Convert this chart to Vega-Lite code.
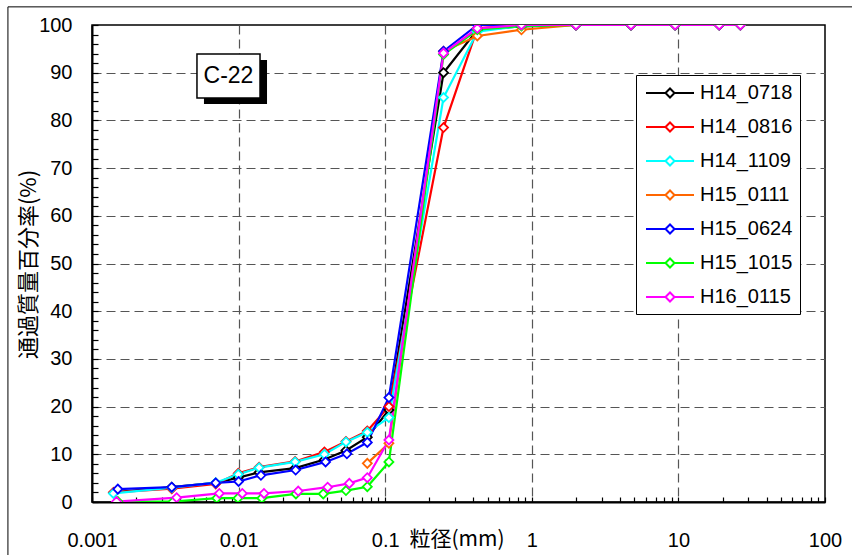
{
  "$schema": "https://vega.github.io/schema/vega-lite/v6.json",
  "width": 733,
  "height": 477,
  "autosize": "none",
  "padding": {"left": 92, "top": 25, "right": 27, "bottom": 53},
  "background": "white",
  "config": {
    "view": {"stroke": "black", "strokeWidth": 1.5},
    "font": "Liberation Sans"
  },
  "datasets": {
    "psd": [
      {"s": "H14_0718", "d": 0.00141, "p": 2.0},
      {"s": "H14_0718", "d": 0.0035, "p": 3.1},
      {"s": "H14_0718", "d": 0.00698, "p": 4.0},
      {"s": "H14_0718", "d": 0.00995, "p": 5.1},
      {"s": "H14_0718", "d": 0.0138, "p": 6.2},
      {"s": "H14_0718", "d": 0.0243, "p": 7.1},
      {"s": "H14_0718", "d": 0.0385, "p": 8.9},
      {"s": "H14_0718", "d": 0.054, "p": 10.8},
      {"s": "H14_0718", "d": 0.0755, "p": 13.6},
      {"s": "H14_0718", "d": 0.106, "p": 19.3},
      {"s": "H14_0718", "d": 0.25, "p": 90.0},
      {"s": "H14_0718", "d": 0.425, "p": 99.0},
      {"s": "H14_0718", "d": 0.85, "p": 99.7},
      {"s": "H14_0718", "d": 2, "p": 100},
      {"s": "H14_0718", "d": 4.75, "p": 100},
      {"s": "H14_0718", "d": 9.5, "p": 100},
      {"s": "H14_0718", "d": 19, "p": 100},
      {"s": "H14_0718", "d": 26.5, "p": 100},

      {"s": "H14_0816", "d": 0.0014, "p": 2.0},
      {"s": "H14_0816", "d": 0.0035, "p": 2.8},
      {"s": "H14_0816", "d": 0.00698, "p": 3.8},
      {"s": "H14_0816", "d": 0.00995, "p": 6.0},
      {"s": "H14_0816", "d": 0.0138, "p": 7.3},
      {"s": "H14_0816", "d": 0.0243, "p": 8.5},
      {"s": "H14_0816", "d": 0.0385, "p": 10.5},
      {"s": "H14_0816", "d": 0.054, "p": 12.7},
      {"s": "H14_0816", "d": 0.0755, "p": 14.9},
      {"s": "H14_0816", "d": 0.106, "p": 20.0},
      {"s": "H14_0816", "d": 0.25, "p": 78.5},
      {"s": "H14_0816", "d": 0.425, "p": 99.3},
      {"s": "H14_0816", "d": 0.85, "p": 100},
      {"s": "H14_0816", "d": 2, "p": 100},
      {"s": "H14_0816", "d": 4.75, "p": 100},
      {"s": "H14_0816", "d": 9.5, "p": 100},
      {"s": "H14_0816", "d": 19, "p": 100},
      {"s": "H14_0816", "d": 26.5, "p": 100},

      {"s": "H14_1109", "d": 0.0014, "p": 1.8},
      {"s": "H14_1109", "d": 0.0035, "p": 3.0},
      {"s": "H14_1109", "d": 0.00698, "p": 4.05},
      {"s": "H14_1109", "d": 0.00995, "p": 5.8},
      {"s": "H14_1109", "d": 0.0138, "p": 7.2},
      {"s": "H14_1109", "d": 0.0243, "p": 8.4},
      {"s": "H14_1109", "d": 0.0385, "p": 10.0},
      {"s": "H14_1109", "d": 0.054, "p": 12.6},
      {"s": "H14_1109", "d": 0.0755, "p": 14.6},
      {"s": "H14_1109", "d": 0.106, "p": 17.7},
      {"s": "H14_1109", "d": 0.25, "p": 84.8},
      {"s": "H14_1109", "d": 0.425, "p": 98.6},
      {"s": "H14_1109", "d": 0.85, "p": 99.8},
      {"s": "H14_1109", "d": 2, "p": 100},
      {"s": "H14_1109", "d": 4.75, "p": 100},
      {"s": "H14_1109", "d": 9.5, "p": 100},
      {"s": "H14_1109", "d": 19, "p": 100},
      {"s": "H14_1109", "d": 26.5, "p": 100},

      {"s": "H15_0111", "d": 0.0755, "p": 8.1},
      {"s": "H15_0111", "d": 0.106, "p": 12.3},
      {"s": "H15_0111", "d": 0.25, "p": 94.5},
      {"s": "H15_0111", "d": 0.425, "p": 97.7},
      {"s": "H15_0111", "d": 0.85, "p": 99.0},
      {"s": "H15_0111", "d": 2, "p": 100},
      {"s": "H15_0111", "d": 4.75, "p": 100},
      {"s": "H15_0111", "d": 9.5, "p": 100},
      {"s": "H15_0111", "d": 19, "p": 100},
      {"s": "H15_0111", "d": 26.5, "p": 100},

      {"s": "H15_0624", "d": 0.0015, "p": 2.7},
      {"s": "H15_0624", "d": 0.0035, "p": 3.1},
      {"s": "H15_0624", "d": 0.00698, "p": 4.0},
      {"s": "H15_0624", "d": 0.01, "p": 4.3},
      {"s": "H15_0624", "d": 0.0142, "p": 5.6},
      {"s": "H15_0624", "d": 0.0245, "p": 6.7},
      {"s": "H15_0624", "d": 0.0392, "p": 8.4},
      {"s": "H15_0624", "d": 0.0548, "p": 10.1},
      {"s": "H15_0624", "d": 0.0755, "p": 12.5},
      {"s": "H15_0624", "d": 0.106, "p": 21.9},
      {"s": "H15_0624", "d": 0.25, "p": 94.5},
      {"s": "H15_0624", "d": 0.425, "p": 100},
      {"s": "H15_0624", "d": 0.85, "p": 100},
      {"s": "H15_0624", "d": 2, "p": 100},
      {"s": "H15_0624", "d": 4.75, "p": 100},
      {"s": "H15_0624", "d": 9.5, "p": 100},
      {"s": "H15_0624", "d": 19, "p": 100},
      {"s": "H15_0624", "d": 26.5, "p": 100},

      {"s": "H15_1015", "d": 0.0015, "p": 0.1},
      {"s": "H15_1015", "d": 0.00358, "p": 0.1},
      {"s": "H15_1015", "d": 0.0071, "p": 0.8},
      {"s": "H15_1015", "d": 0.0099, "p": 0.8},
      {"s": "H15_1015", "d": 0.0144, "p": 0.8},
      {"s": "H15_1015", "d": 0.0246, "p": 1.7},
      {"s": "H15_1015", "d": 0.0378, "p": 1.7},
      {"s": "H15_1015", "d": 0.054, "p": 2.4},
      {"s": "H15_1015", "d": 0.0755, "p": 3.2},
      {"s": "H15_1015", "d": 0.106, "p": 8.4},
      {"s": "H15_1015", "d": 0.25, "p": 93.8},
      {"s": "H15_1015", "d": 0.425, "p": 99.0},
      {"s": "H15_1015", "d": 0.85, "p": 99.8},
      {"s": "H15_1015", "d": 2, "p": 100},
      {"s": "H15_1015", "d": 4.75, "p": 100},
      {"s": "H15_1015", "d": 9.5, "p": 100},
      {"s": "H15_1015", "d": 19, "p": 100},
      {"s": "H15_1015", "d": 26.5, "p": 100},

      {"s": "H16_0115", "d": 0.00147, "p": 0.1},
      {"s": "H16_0115", "d": 0.00378, "p": 0.9},
      {"s": "H16_0115", "d": 0.00739, "p": 1.8},
      {"s": "H16_0115", "d": 0.0106, "p": 1.8},
      {"s": "H16_0115", "d": 0.0149, "p": 1.8},
      {"s": "H16_0115", "d": 0.0255, "p": 2.3},
      {"s": "H16_0115", "d": 0.0405, "p": 3.1},
      {"s": "H16_0115", "d": 0.0569, "p": 3.9},
      {"s": "H16_0115", "d": 0.0755, "p": 5.1},
      {"s": "H16_0115", "d": 0.106, "p": 13.0},
      {"s": "H16_0115", "d": 0.25, "p": 94.1},
      {"s": "H16_0115", "d": 0.425, "p": 99.3},
      {"s": "H16_0115", "d": 0.85, "p": 100},
      {"s": "H16_0115", "d": 2, "p": 100},
      {"s": "H16_0115", "d": 4.75, "p": 100},
      {"s": "H16_0115", "d": 9.5, "p": 100},
      {"s": "H16_0115", "d": 19, "p": 100},
      {"s": "H16_0115", "d": 26.5, "p": 100}
    ],
    "tag": [{"label": "C-22"}]
  },
  "layer": [
    {
      "data": {"name": "psd"},
      "encoding": {
        "x": {
          "field": "d",
          "type": "quantitative",
          "scale": {"type": "log", "domain": [0.001, 100], "nice": false},
          "axis": {
            "title": "粒径(mm)",
            "titleFont": "Noto Sans CJK JP",
            "titleFontSize": 21,
            "titleFontWeight": "normal",
            "titleColor": "black",
            "titleX": 317,
            "titleY": 37,
            "titleAlign": "left",
            "titleBaseline": "middle",
            "tickCount": 500,
            "values": [0.001, 0.002, 0.003, 0.004, 0.005, 0.006, 0.007, 0.008, 0.009,
                       0.01, 0.02, 0.03, 0.04, 0.05, 0.06, 0.07, 0.08, 0.09,
                       0.1, 0.2, 0.3, 0.4, 0.5, 0.6, 0.7, 0.8, 0.9,
                       1, 2, 3, 4, 5, 6, 7, 8, 9,
                       10, 20, 30, 40, 50, 60, 70, 80, 90, 100],
            "labelExpr": "indexof([0.001, 0.01, 0.1, 1, 10, 100], datum.value) >= 0 ? format(datum.value, '~g') : ''",
            "labelFontSize": 20,
            "labelColor": "black",
            "labelPadding": 33,
            "labelOverlap": false,
            "labelFlush": false,
            "domainColor": "black",
            "domainWidth": 2,
            "ticks": true,
            "tickSize": -5,
            "tickColor": "black",
            "tickWidth": 1.2,
            "grid": true,
            "gridColor": "#555555",
            "gridDash": [9, 5],
            "gridWidth": 1.2,
            "gridOpacity": {"condition": {"test": "indexof([0.01, 0.1, 1, 10], datum.value) >= 0", "value": 1}, "value": 0}
          }
        },
        "y": {
          "field": "p",
          "type": "quantitative",
          "scale": {"domain": [0, 100], "nice": false},
          "axis": {
            "title": "通過質量百分率(%)",
            "titleFont": "Noto Sans CJK JP",
            "titleFontSize": 22,
            "titleFontWeight": "normal",
            "titleColor": "black",
            "titleAngle": -90,
            "titleX": -64,
            "titleY": 239,
            "titleAlign": "center",
            "titleBaseline": "middle",
            "tickCount": 500,
            "values": [0, 2, 4, 6, 8, 10, 12, 14, 16, 18, 20, 22, 24, 26, 28, 30, 32, 34, 36, 38, 40,
                       42, 44, 46, 48, 50, 52, 54, 56, 58, 60, 62, 64, 66, 68, 70, 72, 74, 76, 78, 80,
                       82, 84, 86, 88, 90, 92, 94, 96, 98, 100],
            "labelExpr": "datum.value % 10 === 0 ? format(datum.value, 'd') : ''",
            "labelFontSize": 20,
            "labelColor": "black",
            "labelPadding": 26,
            "labelOverlap": false,
            "labelFlush": false,
            "domainColor": "black",
            "domainWidth": 2,
            "ticks": true,
            "tickSize": -6,
            "tickColor": "black",
            "tickWidth": 1.2,
            "grid": true,
            "gridColor": "#555555",
            "gridDash": [9, 5],
            "gridWidth": 1.2,
            "gridOpacity": {"condition": {"test": "datum.value % 10 === 0 && datum.value > 0 && datum.value < 100", "value": 1}, "value": 0}
          }
        },
        "color": {
          "field": "s",
          "type": "nominal",
          "scale": {
            "domain": ["H14_0718", "H14_0816", "H14_1109", "H15_0111", "H15_0624", "H15_1015", "H16_0115"],
            "range": ["#000000", "#FF0000", "#00FFFF", "#FF6600", "#0000FF", "#00FF00", "#FF00FF"]
          },
          "legend": {
            "orient": "none",
            "legendX": 544,
            "legendY": 50,
            "title": null,
            "strokeColor": "black",
            "fillColor": "white",
            "padding": 7,
            "symbolType": "M-2.4,0L-0.45,0M0.45,0L2.4,0M-0.45,0L0,-0.45L0.45,0L0,0.45Z",
            "symbolSize": 400,
            "symbolStrokeWidth": 2,
            "symbolFillColor": "white",
            "symbolOffset": 16,
            "labelOffset": 19,
            "labelFont": "Liberation Sans",
            "labelFontSize": 20,
            "labelColor": "black",
            "labelLimit": 200,
            "rowPadding": 13
          }
        }
      },
      "layer": [
        {"mark": {"type": "line", "strokeWidth": 2.2, "clip": true}},
        {"mark": {"type": "point", "shape": "diamond", "filled": false, "fill": "white", "fillOpacity": 1, "opacity": 1, "size": 81, "strokeWidth": 1.8, "clip": true}}
      ]
    },
    {
      "data": {"values": [{}]},
      "mark": {"type": "rect", "fill": null, "stroke": "black", "strokeWidth": 1, "clip": false},
      "encoding": {
        "x": {"datum": 0.000267, "type": "quantitative"},
        "x2": {"datum": 1000000},
        "y": {"datum": -30, "type": "quantitative"},
        "y2": {"datum": 103.8}
      }
    },
    {
      "data": {"name": "tag"},
      "mark": {"type": "rect", "fill": "black", "xOffset": 7, "x2Offset": 7, "yOffset": 6, "y2Offset": 6},
      "encoding": {
        "x": {"datum": 0.0052, "type": "quantitative"},
        "x2": {"datum": 0.014},
        "y": {"datum": 93.9, "type": "quantitative"},
        "y2": {"datum": 84.7}
      }
    },
    {
      "data": {"name": "tag"},
      "mark": {"type": "rect", "fill": "white", "stroke": "black", "strokeWidth": 1.5},
      "encoding": {
        "x": {"datum": 0.0052, "type": "quantitative"},
        "x2": {"datum": 0.014},
        "y": {"datum": 93.9, "type": "quantitative"},
        "y2": {"datum": 84.7}
      }
    },
    {
      "data": {"name": "tag"},
      "mark": {"type": "text", "font": "Liberation Sans", "fontSize": 23, "color": "black", "align": "center", "baseline": "middle"},
      "encoding": {
        "x": {"datum": 0.00853, "type": "quantitative"},
        "y": {"datum": 89.3, "type": "quantitative"},
        "text": {"field": "label"}
      }
    }
  ]
}
